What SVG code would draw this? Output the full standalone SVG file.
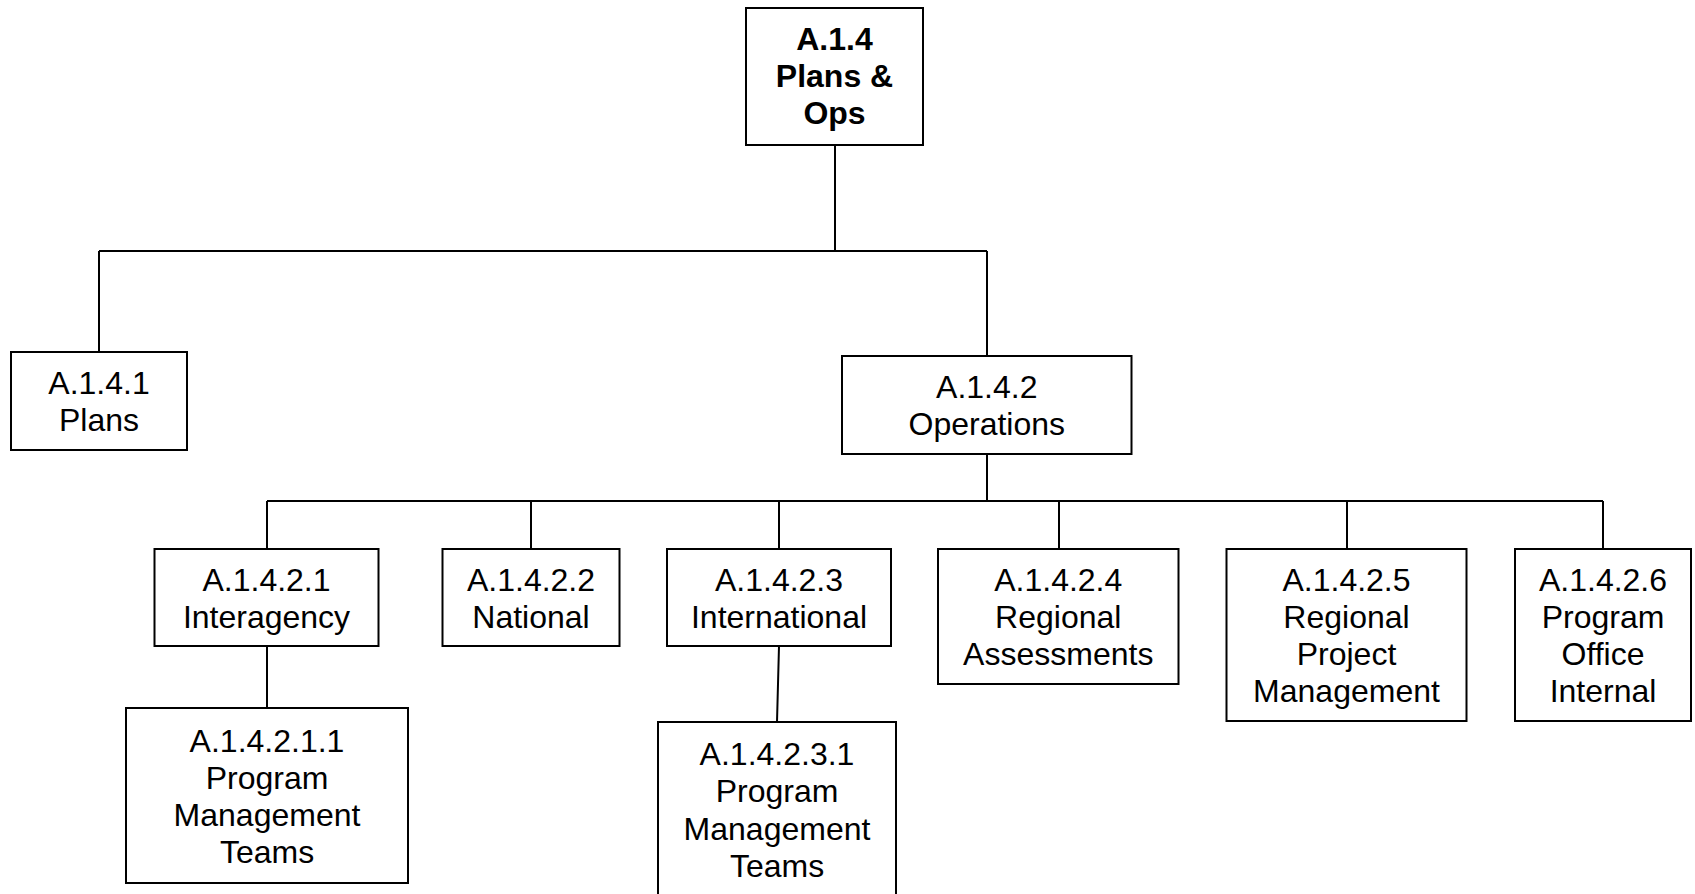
<svg xmlns="http://www.w3.org/2000/svg" width="1695" height="894" viewBox="0 0 1695 894">
<style>
.box{fill:#fff;stroke:#000;stroke-width:2}
.t{font-family:"Liberation Sans",Arial,sans-serif;font-size:32px;fill:#000;text-anchor:middle}
.b{font-weight:bold}
.c{fill:none;stroke:#000;stroke-width:2}
</style>
<rect width="1695" height="894" fill="#fff"/>
<g id="connectors">
<path class="c" d="M835,145V251M99,251H987M99,251V352M987,251V356"/>
<path class="c" d="M987,454V501M267,501H1603M267,501V549M531,501V549M779,501V549M1059,501V549M1347,501V549M1603,501V549"/>
<path class="c" d="M267,646V708M779,646L777,722"/>
</g>
<g id="n_A14">
<rect class="box" x="746" y="8" width="177" height="137"/>
<text class="t b" x="834.5" y="50">A.1.4</text>
<text class="t b" x="834.5" y="87">Plans &amp;</text>
<text class="t b" x="834.5" y="124">Ops</text>
</g>
<g id="n_A141">
<rect class="box" x="11" y="352" width="176" height="98"/>
<text class="t" x="99" y="394">A.1.4.1</text>
<text class="t" x="99" y="431">Plans</text>
</g>
<g id="n_A142">
<rect class="box" x="842" y="356" width="289.5" height="98"/>
<text class="t" x="986.75" y="398">A.1.4.2</text>
<text class="t" x="986.75" y="435">Operations</text>
</g>
<g id="n_A1421">
<rect class="box" x="154.5" y="549" width="224" height="97"/>
<text class="t" x="266.5" y="591">A.1.4.2.1</text>
<text class="t" x="266.5" y="628">Interagency</text>
</g>
<g id="n_A1422">
<rect class="box" x="442.5" y="549" width="177" height="97"/>
<text class="t" x="531" y="591">A.1.4.2.2</text>
<text class="t" x="531" y="628">National</text>
</g>
<g id="n_A1423">
<rect class="box" x="667" y="549" width="224" height="97"/>
<text class="t" x="779" y="591">A.1.4.2.3</text>
<text class="t" x="779" y="628">International</text>
</g>
<g id="n_A1424">
<rect class="box" x="938" y="549" width="240.5" height="135"/>
<text class="t" x="1058.25" y="591">A.1.4.2.4</text>
<text class="t" x="1058.25" y="628">Regional</text>
<text class="t" x="1058.25" y="665">Assessments</text>
</g>
<g id="n_A1425">
<rect class="box" x="1226.5" y="549" width="240" height="172"/>
<text class="t" x="1346.5" y="591">A.1.4.2.5</text>
<text class="t" x="1346.5" y="628">Regional</text>
<text class="t" x="1346.5" y="665">Project</text>
<text class="t" x="1346.5" y="702">Management</text>
</g>
<g id="n_A1426">
<rect class="box" x="1515" y="549" width="176" height="172"/>
<text class="t" x="1603" y="591">A.1.4.2.6</text>
<text class="t" x="1603" y="628">Program</text>
<text class="t" x="1603" y="665">Office</text>
<text class="t" x="1603" y="702">Internal</text>
</g>
<g id="n_A14211">
<rect class="box" x="126" y="708" width="282" height="175"/>
<text class="t" x="267" y="752">A.1.4.2.1.1</text>
<text class="t" x="267" y="789">Program</text>
<text class="t" x="267" y="826">Management</text>
<text class="t" x="267" y="863">Teams</text>
</g>
<g id="n_A14231">
<rect class="box" x="658" y="722" width="238" height="177"/>
<text class="t" x="777" y="765">A.1.4.2.3.1</text>
<text class="t" x="777" y="802">Program</text>
<text class="t" x="777" y="840">Management</text>
<text class="t" x="777" y="877">Teams</text>
</g>
</svg>
